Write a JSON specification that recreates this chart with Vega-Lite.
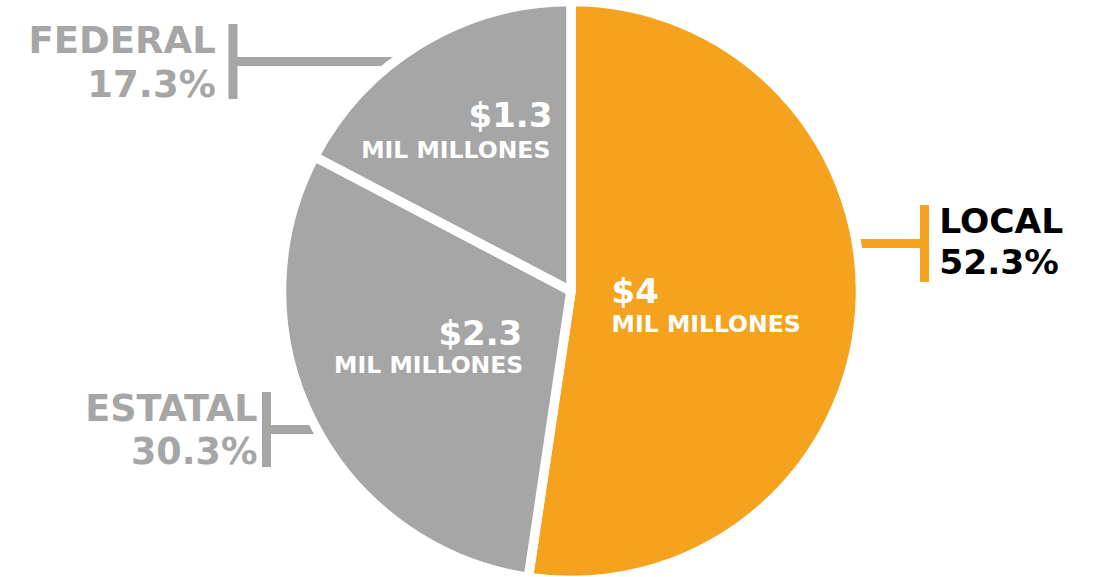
{
  "$schema": "https://vega.github.io/schema/vega-lite/v6.json",
  "width": 1052,
  "height": 572,
  "padding": {"left": 45, "top": 5, "right": 0, "bottom": 0},
  "autosize": {"type": "none"},
  "background": "white",
  "config": {"view": {"stroke": null}, "text": {"font": "DejaVu Sans", "fontWeight": "bold", "baseline": "alphabetic"}},
  "data": {"values": [
    {"nivel": "LOCAL", "etiqueta": "LOCAL\n52.3%", "share": 0.523, "monto": 4},
    {"nivel": "ESTATAL", "etiqueta": "ESTATAL\n30.3%", "share": 0.303, "monto": 2.3},
    {"nivel": "FEDERAL", "etiqueta": "FEDERAL\n17.3%", "share": 0.173, "monto": 1.3}
  ]},
  "layer": [
    {
      "mark": {"type": "point", "filled": false, "size": 40000, "strokeWidth": 9, "opacity": 1},
      "encoding": {
        "shape": {"field": "nivel", "type": "nominal", "legend": null,
          "scale": {"domain": ["FEDERAL", "ESTATAL", "LOCAL"],
            "range": ["M -3.38 -2.67 L -3.38 -1.92 M -3.38 -2.295 L -1.5 -2.295",
                      "M -3.045 1.01 L -3.045 1.76 M -3.045 1.385 L -2.3 1.385",
                      "M 3.535 -0.86 L 3.535 -0.09 M 3.535 -0.475 L 2.6 -0.475"]}},
        "color": {"field": "nivel", "type": "nominal", "legend": null,
          "scale": {"domain": ["LOCAL", "ESTATAL", "FEDERAL"], "range": ["#F5A31F", "#A6A6A6", "#A6A6A6"]}}
      }
    },
    {
      "mark": {"type": "arc", "radius": 289.5, "stroke": "white", "strokeWidth": 9.5, "strokeJoin": "round"},
      "encoding": {
        "theta": {"field": "share", "type": "quantitative", "stack": true},
        "order": {"field": "share", "sort": "descending"},
        "color": {"field": "nivel", "type": "nominal", "legend": null,
          "scale": {"domain": ["LOCAL", "ESTATAL", "FEDERAL"], "range": ["#F5A31F", "#A6A6A6", "#A6A6A6"]}}
      }
    },
    {
      "mark": {"type": "text", "fontSize": 37, "lineBreak": "\n", "lineHeight": 44, "align": "right", "radius": 300, "dx": -200, "dy": 19, "color": "#A6A6A6"},
      "encoding": {
        "theta": {"field": "share", "type": "quantitative", "stack": true},
        "order": {"field": "share", "sort": "descending"},
        "text": {"condition": {"test": "datum.nivel === 'FEDERAL'", "field": "etiqueta", "type": "nominal"}, "value": ""}
      }
    },
    {
      "mark": {"type": "text", "fontSize": 36.5, "lineBreak": "\n", "lineHeight": 43.5, "align": "right", "radius": 300, "dx": -46, "dy": -6, "color": "#A6A6A6"},
      "encoding": {
        "theta": {"field": "share", "type": "quantitative", "stack": true},
        "order": {"field": "share", "sort": "descending"},
        "text": {"condition": {"test": "datum.nivel === 'ESTATAL'", "field": "etiqueta", "type": "nominal"}, "value": ""}
      }
    },
    {
      "mark": {"type": "text", "fontSize": 34.5, "lineBreak": "\n", "lineHeight": 41, "align": "left", "radius": 300, "dx": 69, "dy": -80.5, "color": "#000000"},
      "encoding": {
        "theta": {"field": "share", "type": "quantitative", "stack": true},
        "order": {"field": "share", "sort": "descending"},
        "text": {"condition": {"test": "datum.nivel === 'LOCAL'", "field": "etiqueta", "type": "nominal"}, "value": ""}
      }
    },
    {
      "mark": {"type": "text", "fontSize": 34, "align": "right", "radius": 150, "dx": 59, "dy": -36, "color": "white"},
      "encoding": {
        "theta": {"field": "share", "type": "quantitative", "stack": true},
        "order": {"field": "share", "sort": "descending"},
        "text": {"condition": {"test": "datum.nivel === 'FEDERAL'", "field": "monto", "type": "quantitative", "format": "$.2~g"}, "value": ""}
      }
    },
    {
      "mark": {"type": "text", "fontSize": 23.5, "align": "right", "radius": 150, "dx": 57, "dy": -5, "color": "white"},
      "encoding": {
        "theta": {"field": "share", "type": "quantitative", "stack": true},
        "order": {"field": "share", "sort": "descending"},
        "text": {"condition": {"test": "datum.nivel === 'FEDERAL'", "value": "MIL MILLONES"}, "value": ""}
      }
    },
    {
      "mark": {"type": "text", "fontSize": 34, "align": "right", "radius": 150, "dx": 85, "dy": -14, "color": "white"},
      "encoding": {
        "theta": {"field": "share", "type": "quantitative", "stack": true},
        "order": {"field": "share", "sort": "descending"},
        "text": {"condition": {"test": "datum.nivel === 'ESTATAL'", "field": "monto", "type": "quantitative", "format": "$.2~g"}, "value": ""}
      }
    },
    {
      "mark": {"type": "text", "fontSize": 23.5, "align": "right", "radius": 150, "dx": 86, "dy": 14, "color": "white"},
      "encoding": {
        "theta": {"field": "share", "type": "quantitative", "stack": true},
        "order": {"field": "share", "sort": "descending"},
        "text": {"condition": {"test": "datum.nivel === 'ESTATAL'", "value": "MIL MILLONES"}, "value": ""}
      }
    },
    {
      "mark": {"type": "text", "fontSize": 34, "align": "left", "radius": 150, "dx": -109, "dy": 1, "color": "white"},
      "encoding": {
        "theta": {"field": "share", "type": "quantitative", "stack": true},
        "order": {"field": "share", "sort": "descending"},
        "text": {"condition": {"test": "datum.nivel === 'LOCAL'", "field": "monto", "type": "quantitative", "format": "$.2~g"}, "value": ""}
      }
    },
    {
      "mark": {"type": "text", "fontSize": 23.5, "align": "left", "radius": 150, "dx": -109, "dy": 30, "color": "white"},
      "encoding": {
        "theta": {"field": "share", "type": "quantitative", "stack": true},
        "order": {"field": "share", "sort": "descending"},
        "text": {"condition": {"test": "datum.nivel === 'LOCAL'", "value": "MIL MILLONES"}, "value": ""}
      }
    }
  ]
}
